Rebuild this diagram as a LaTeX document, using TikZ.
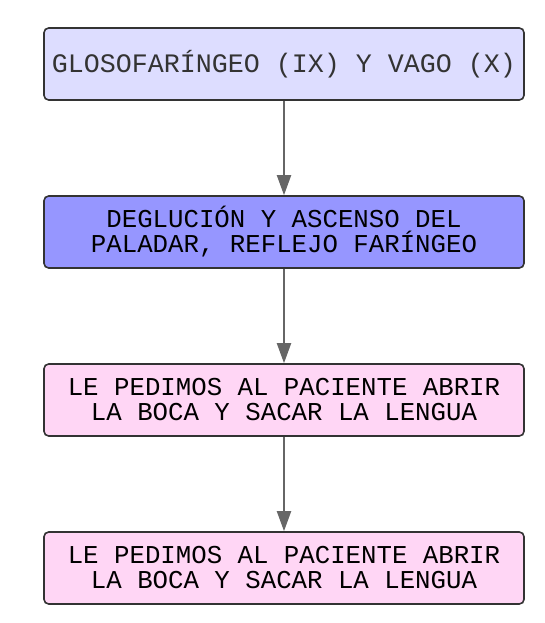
\documentclass[tikz,border=0pt]{standalone}
\usepackage{fontspec}
\setmonofont{Liberation Mono}
\usepackage{tikz}
\usetikzlibrary{arrows.meta,positioning}

\definecolor{lilac}{RGB}{221,221,255}
\definecolor{violet}{RGB}{150,150,255}
\definecolor{pinkish}{RGB}{255,214,245}
\definecolor{edge}{RGB}{51,51,51}
\definecolor{arrowgray}{RGB}{102,102,102}

\tikzset{
  stepbox/.style={draw=edge, line width=1.2pt, rounded corners=3.5pt,
    minimum width=360pt, minimum height=54pt, inner sep=0pt,
    align=center, font=\ttfamily\fontsize{19.3}{18.75}\selectfont},
  link/.style={draw=arrowgray, line width=1.5pt,
    -{Triangle[length=15pt,width=10.5pt]}},
}

\begin{document}
\begin{tikzpicture}[x=0.75pt,y=0.75pt,yscale=-1,xscale=1]
\useasboundingbox (0,0) rectangle (544,623);

% Boxes
\node (nerve) [stepbox, fill=lilac, text=edge, font=\ttfamily\fontsize{20}{20}\selectfont] at (284,64) {GLOSOFARÍNGEO (IX) Y VAGO (X)};
\node (act) [stepbox, fill=violet] at (284,232) {DEGLUCIÓN Y ASCENSO DEL\\PALADAR, REFLEJO FARÍNGEO};
\node (ask) [stepbox, fill=pinkish] at (284,400) {LE PEDIMOS AL PACIENTE ABRIR\\LA BOCA Y SACAR LA LENGUA};
\node (ask2) [stepbox, fill=pinkish] at (284,568) {LE PEDIMOS AL PACIENTE ABRIR\\LA BOCA Y SACAR LA LENGUA};

% Arrows
\draw [link] (nerve) -- (act);
\draw [link] (act) -- (ask);
\draw [link] (ask) -- (ask2);

\end{tikzpicture}
\end{document}
